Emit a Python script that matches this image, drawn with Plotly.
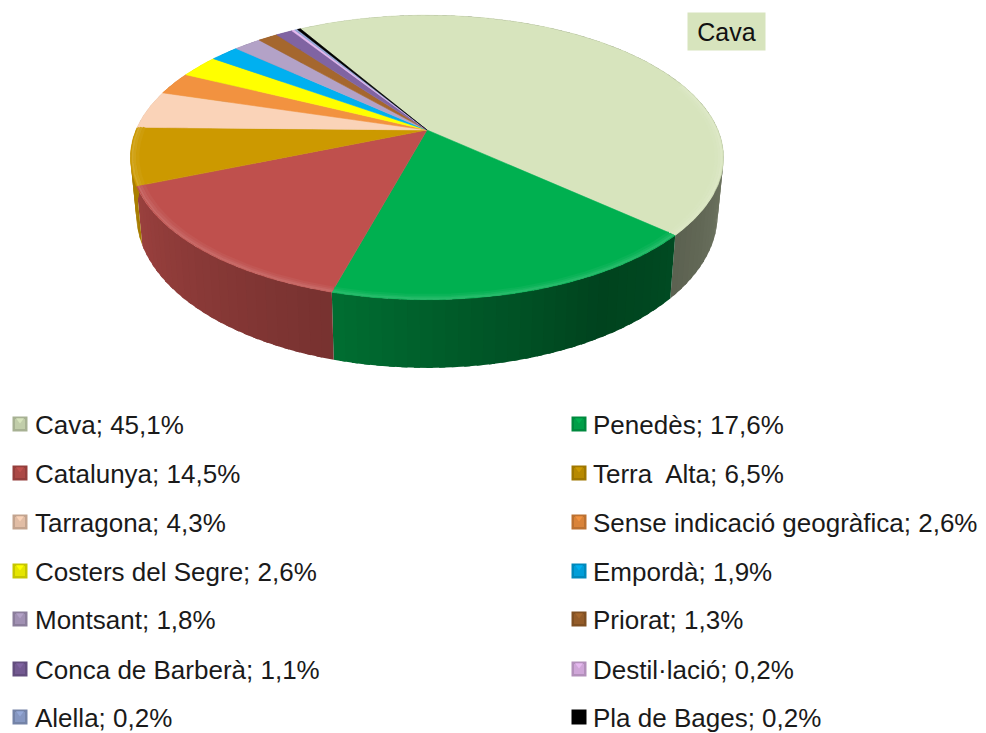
import numpy as np
import plotly.graph_objects as go

names = [
    "Cava", "Penedès", "Catalunya", "Terra  Alta", "Tarragona",
    "Sense indicació geogràfica", "Costers del Segre", "Empordà", "Montsant",
    "Priorat", "Conca de Barberà", "Destil·lació", "Alella", "Pla de Bages",
]
values = [45.1, 17.6, 14.5, 6.5, 4.3, 2.6, 2.6, 1.9, 1.8, 1.3, 1.1, 0.2, 0.2, 0.2]
colors = [
    "#D7E4BD", "#00B050", "#BF504D", "#CC9900", "#FAD3B8", "#F29240", "#FFFF00",
    "#00B0F0", "#B3A2C7", "#A5672E", "#8064A2", "#E6B9F0", "#95A8D7", "#000000",
]
# legend is read across the rows, left column then right column
legend_left = [0, 2, 4, 6, 8, 10, 12]
legend_right = [1, 3, 5, 7, 9, 11, 13]
legend_rows = [427, 476, 525, 574, 622, 672, 720]

# pie geometry in page pixels
CX, CY = 427, 130
R, S, K = 291, 137, 0.193
DEPTH, SHRINK = 55, 0.98
START = -30.5
FONT = "Liberation Sans"

shade_angles = [0, 60, 100, 135, 150, 194, 250, 290, 360]
shade_levels = [0.55, 0.55, 0.52, 0.42, 0.38, 0.62, 0.82, 0.85, 0.6]


def project(theta, bottom=False):
    t = np.radians(theta)
    u, v = np.sin(t), np.cos(t)
    w = 1 + K * v
    x = CX + R * u / w
    y = CY - S * v / w
    if bottom:
        x = CX + (x - CX) * SHRINK
        y = y + DEPTH / w
    return x, y


def tone(color, f):
    r, g, b = [int(color[i:i + 2], 16) for i in (1, 3, 5)]
    return f"rgb({int(r * f)},{int(g * f)},{int(b * f)})"


def lighten(color, f):
    r, g, b = [int(color[i:i + 2], 16) for i in (1, 3, 5)]
    return f"rgb({int(r + (255 - r) * f)},{int(g + (255 - g) * f)},{int(b + (255 - b) * f)})"


def poly(x, y, color, width=0.6):
    return go.Scatter(
        x=x, y=y, mode="lines", fill="toself", fillcolor=color,
        line=dict(color=color, width=width), hoverinfo="skip", showlegend=False,
    )


fig = go.Figure()

edges = START + np.cumsum([0] + values) * 360 / sum(values)

# side wall, cut into narrow strips for the shading. Each strip runs a little
# under the next one so no seams show
for i, c in enumerate(colors):
    a, b = edges[i], edges[i + 1]
    n = max(1, int((b - a) / 2))
    steps = np.linspace(a, b, n + 1)
    for t0, t1 in zip(steps[:-1], steps[1:]):
        end = min(t1 + 1.0, b)
        ts = np.linspace(t0, end, 3)
        xt, yt = project(ts)
        xb, yb = project(ts[::-1], bottom=True)
        f = np.interp((t0 + t1) / 2 % 360, shade_angles, shade_levels)
        fig.add_trace(poly(np.r_[xt, xb, xt[0]], np.r_[yt, yb, yt[0]], tone(c, f), width=0))

# top face
for i, c in enumerate(colors):
    ts = np.linspace(edges[i], edges[i + 1], max(3, int(values[i] * 8)))
    xr, yr = project(ts)
    fig.add_trace(poly(np.r_[CX, xr, CX], np.r_[CY, yr, CY], c))

# soft light bevel along the front rim of the big slices
bevel_rings = [(0.975, 0.04, 3), (0.985, 0.09, 2.5), (0.993, 0.15, 2)]
for i in range(4):
    a, b = edges[i], edges[i + 1]
    a = max(a, 70) if i == 0 else a
    ts = np.linspace(a, b, 60)
    xr, yr = project(ts)
    for scale, mix, width in bevel_rings:
        fig.add_trace(go.Scatter(
            x=CX + (xr - CX) * scale, y=CY + (yr - CY) * scale, mode="lines",
            line=dict(color=lighten(colors[i], mix), width=width),
            hoverinfo="skip", showlegend=False,
        ))

# legend
for col, marker_x, text_x in [(legend_left, 20, 35), (legend_right, 579, 593)]:
    for row, i in zip(legend_rows, col):
        label = f"{names[i]}; {values[i]:.1f}%".replace(".", ",")
        fig.add_trace(go.Scatter(
            x=[marker_x], y=[row - 3], mode="markers",
            marker=dict(symbol="square", size=15, color=tone(colors[i], 0.78), line=dict(width=0)),
            hoverinfo="skip", showlegend=False,
        ))
        fig.add_trace(go.Scatter(
            x=[marker_x], y=[row - 3], mode="markers",
            marker=dict(symbol="square", size=10, color=tone(colors[i], 0.9), line=dict(width=0)),
            hoverinfo="skip", showlegend=False,
        ))
        fig.add_trace(go.Scatter(
            x=[marker_x], y=[row - 7], mode="markers",
            marker=dict(symbol="triangle-down", size=7, color=colors[i], line=dict(width=0)),
            hoverinfo="skip", showlegend=False,
        ))
        fig.add_trace(go.Scatter(
            x=[text_x], y=[row], mode="text", text=[label], textposition="middle right",
            textfont=dict(family=FONT, size=26, color="#1a1a1a"),
            hoverinfo="skip", showlegend=False,
        ))

fig.add_annotation(
    x=726, y=31, xref="x", yref="y", text="Cava", showarrow=False,
    font=dict(family=FONT, size=25, color="#111111"),
    bgcolor="#D7E4BD", borderpad=0, width=77, height=37,
)

fig.update_layout(
    width=986, height=733,
    margin=dict(l=0, r=0, t=0, b=0),
    paper_bgcolor="white", plot_bgcolor="white",
    xaxis=dict(range=[0, 986], visible=False, fixedrange=True),
    yaxis=dict(range=[733, 0], visible=False, fixedrange=True),
)

# drop the browser's default page margin so the figure fills the window
fig.write_html(
    "out.html",
    config={"displayModeBar": False},
    post_script="document.body.style.margin='0';",
)
